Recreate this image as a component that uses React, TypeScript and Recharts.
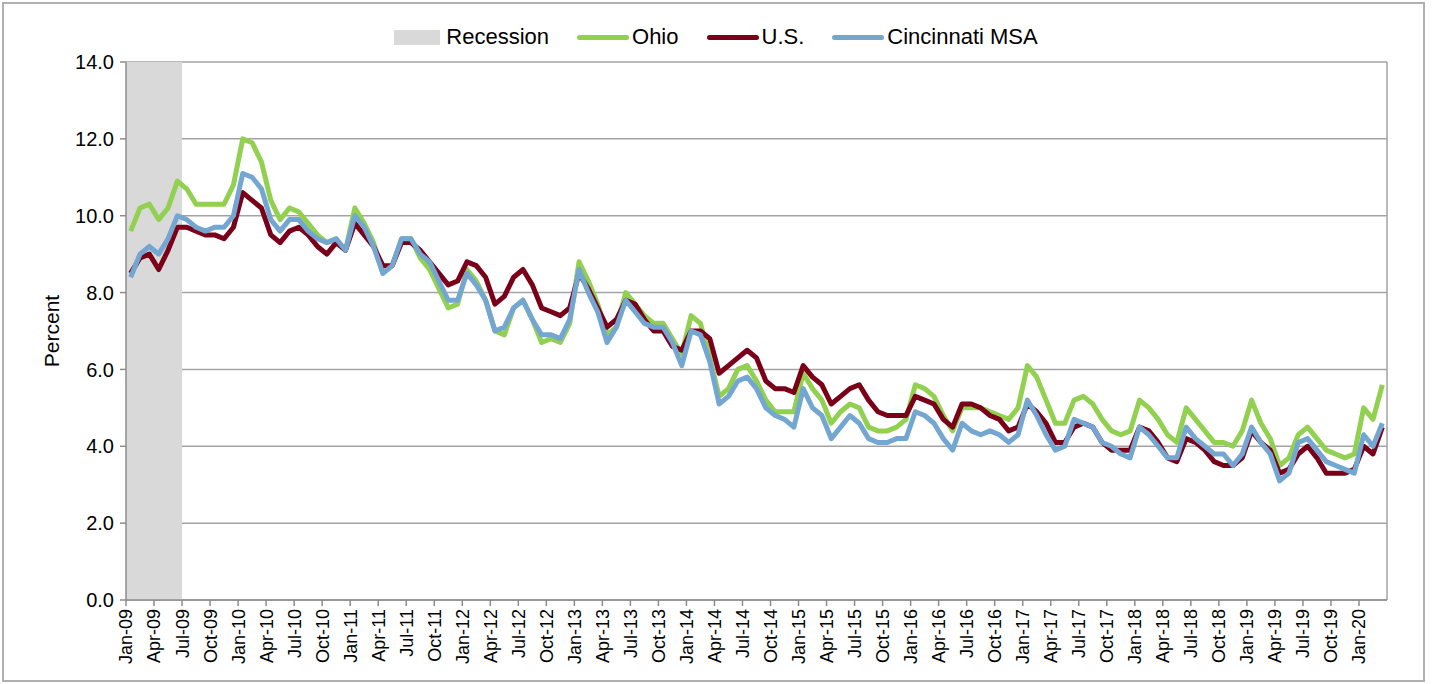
import React from "react";
import {
  CartesianGrid,
  Line,
  LineChart,
  ReferenceArea,
  ReferenceLine,
  XAxis,
  YAxis,
} from "recharts";

// monthly, Jan-09 .. Mar-20 (not seasonally adjusted unemployment rate, %)
const monthNames = ["Jan", "Feb", "Mar", "Apr", "May", "Jun", "Jul", "Aug", "Sep", "Oct", "Nov", "Dec"];
const years = ["09", "10", "11", "12", "13", "14", "15", "16", "17", "18", "19", "20"];

const ohio = [
  9.6, 10.2, 10.3, 9.9, 10.2, 10.9, 10.7, 10.3, 10.3, 10.3, 10.3, 10.8,
  12.0, 11.9, 11.4, 10.4, 9.9, 10.2, 10.1, 9.8, 9.5, 9.3, 9.4, 9.1,
  10.2, 9.8, 9.3, 8.5, 8.7, 9.4, 9.4, 8.9, 8.6, 8.1, 7.6, 7.7,
  8.6, 8.3, 7.8, 7.0, 6.9, 7.6, 7.8, 7.3, 6.7, 6.8, 6.7, 7.2,
  8.8, 8.3, 7.7, 6.9, 7.1, 8.0, 7.7, 7.4, 7.2, 7.2, 6.8, 6.4,
  7.4, 7.2, 6.3, 5.3, 5.5, 6.0, 6.1, 5.7, 5.2, 4.9, 4.9, 4.9,
  5.9, 5.5, 5.2, 4.6, 4.9, 5.1, 5.0, 4.5, 4.4, 4.4, 4.5, 4.7,
  5.6, 5.5, 5.3, 4.8, 4.4, 5.0, 5.0, 5.0, 4.9, 4.8, 4.7, 5.0,
  6.1, 5.8, 5.2, 4.6, 4.6, 5.2, 5.3, 5.1, 4.7, 4.4, 4.3, 4.4,
  5.2, 5.0, 4.7, 4.3, 4.1, 5.0, 4.7, 4.4, 4.1, 4.1, 4.0, 4.4,
  5.2, 4.6, 4.2, 3.5, 3.7, 4.3, 4.5, 4.2, 3.9, 3.8, 3.7, 3.8,
  5.0, 4.7, 5.6,
];

const us = [
  8.5, 8.9, 9.0, 8.6, 9.1, 9.7, 9.7, 9.6, 9.5, 9.5, 9.4, 9.7,
  10.6, 10.4, 10.2, 9.5, 9.3, 9.6, 9.7, 9.5, 9.2, 9.0, 9.3, 9.1,
  9.8, 9.5, 9.2, 8.7, 8.7, 9.3, 9.3, 9.1, 8.8, 8.5, 8.2, 8.3,
  8.8, 8.7, 8.4, 7.7, 7.9, 8.4, 8.6, 8.2, 7.6, 7.5, 7.4, 7.6,
  8.5, 8.1, 7.6, 7.1, 7.3, 7.8, 7.7, 7.3, 7.0, 7.0, 6.6, 6.5,
  7.0, 7.0, 6.8, 5.9, 6.1, 6.3, 6.5, 6.3, 5.7, 5.5, 5.5, 5.4,
  6.1, 5.8, 5.6, 5.1, 5.3, 5.5, 5.6, 5.2, 4.9, 4.8, 4.8, 4.8,
  5.3, 5.2, 5.1, 4.7, 4.5, 5.1, 5.1, 5.0, 4.8, 4.7, 4.4, 4.5,
  5.1, 4.9, 4.6, 4.1, 4.1, 4.5, 4.6, 4.5, 4.1, 3.9, 3.9, 3.9,
  4.5, 4.4, 4.1, 3.7, 3.6, 4.2, 4.1, 3.9, 3.6, 3.5, 3.5, 3.7,
  4.4, 4.1, 3.9, 3.3, 3.4, 3.8, 4.0, 3.7, 3.3, 3.3, 3.3, 3.4,
  4.0, 3.8, 4.5,
];

const cincinnati = [
  8.4, 9.0, 9.2, 9.0, 9.4, 10.0, 9.9, 9.7, 9.6, 9.7, 9.7, 10.0,
  11.1, 11.0, 10.7, 9.9, 9.6, 9.9, 9.9, 9.6, 9.4, 9.3, 9.4, 9.1,
  10.0, 9.7, 9.2, 8.5, 8.7, 9.4, 9.4, 9.0, 8.8, 8.3, 7.8, 7.8,
  8.5, 8.2, 7.8, 7.0, 7.1, 7.6, 7.8, 7.3, 6.9, 6.9, 6.8, 7.3,
  8.6, 8.0, 7.5, 6.7, 7.1, 7.8, 7.5, 7.2, 7.1, 7.1, 6.7, 6.1,
  7.0, 6.9, 6.2, 5.1, 5.3, 5.7, 5.8, 5.5, 5.0, 4.8, 4.7, 4.5,
  5.5, 5.0, 4.8, 4.2, 4.5, 4.8, 4.6, 4.2, 4.1, 4.1, 4.2, 4.2,
  4.9, 4.8, 4.6, 4.2, 3.9, 4.6, 4.4, 4.3, 4.4, 4.3, 4.1, 4.3,
  5.2, 4.8, 4.3, 3.9, 4.0, 4.7, 4.6, 4.5, 4.1, 4.0, 3.8, 3.7,
  4.5, 4.3, 4.0, 3.7, 3.7, 4.5, 4.2, 4.0, 3.8, 3.8, 3.5, 3.8,
  4.5, 4.1, 3.8, 3.1, 3.3, 4.1, 4.2, 3.9, 3.6, 3.5, 3.4, 3.3,
  4.3, 4.0, 4.6,
];

// recession months shaded: Jan-09 .. Jun-09
const recession = ["Jan-09", "Jun-09"];
const yTicks = [0, 2, 4, 6, 8, 10, 12, 14];

const months: string[] = [];
years.forEach((yr) => monthNames.forEach((m) => months.push(`${m}-${yr}`)));
const categories = months.slice(0, ohio.length);

const data = categories.map((name, i) => ({
  i,
  name,
  ohio: ohio[i],
  us: us[i],
  cincinnati: cincinnati[i],
}));

// ticks sit on category boundaries, every 3rd month
const xTicks = categories
  .map((_, i) => i)
  .filter((i) => i % 3 === 0)
  .map((i) => i - 0.5);

const FONT = "'Liberation Sans', Arial, sans-serif";
const GRID = "#a3a3a3";
const AXIS = "#8c8c8c";

const COLORS = {
  recession: "#d9d9d9",
  ohio: "#92d050",
  us: "#7a0019",
  cincinnati: "#74a6d2",
};

const MonthTick = (props: any) => {
  const { x, y, payload } = props;
  const label = categories[Math.round(payload.value + 0.5)];
  return (
    <text
      x={x}
      y={y}
      transform={`rotate(-90 ${x} ${y})`}
      textAnchor="end"
      dy="0.36em"
      fontSize={18}
      fontFamily={FONT}
      fill="#000"
    >
      {label}
    </text>
  );
};

const legendItems = [
  { label: "Recession", color: COLORS.recession, box: true },
  { label: "Ohio", color: COLORS.ohio },
  { label: "U.S.", color: COLORS.us },
  { label: "Cincinnati MSA", color: COLORS.cincinnati },
];

function Legend() {
  return (
    <div
      style={{
        position: "absolute",
        top: 24,
        left: 0,
        width: 1432,
        display: "flex",
        justifyContent: "center",
        alignItems: "center",
        fontFamily: FONT,
        fontSize: 22,
        color: "#000",
        paddingLeft: 28,
        boxSizing: "border-box",
      }}
    >
      {legendItems.map((it) => (
        <div
          key={it.label}
          style={{ display: "flex", alignItems: "center", marginRight: 28 }}
        >
          {it.box ? (
            <span
              style={{
                display: "inline-block",
                width: 46,
                height: 15,
                background: it.color,
                marginRight: 6,
              }}
            />
          ) : (
            <span
              style={{
                display: "inline-block",
                width: 52,
                height: 5,
                borderRadius: 3,
                background: it.color,
                marginRight: 3,
              }}
            />
          )}
          <span>{it.label}</span>
        </div>
      ))}
    </div>
  );
}

export default function App() {
  const r0 = categories.indexOf(recession[0]) - 0.5;
  const r1 = categories.indexOf(recession[1]) + 0.5;
  return (
    <div style={{ position: "relative", width: 1432, height: 684, background: "#fff" }}>
      <style>{`body{margin:0}`}</style>
      <div
        style={{
          position: "absolute",
          left: 2,
          top: 2,
          width: 1423,
          height: 680,
          border: "2px solid #b0b0b0",
          boxSizing: "border-box",
        }}
      />
      <Legend />
      <LineChart
        width={1432}
        height={684}
        data={data}
        margin={{ top: 62, right: 45, bottom: 0, left: 0 }}
        style={{ position: "absolute", left: 0, top: 0 }}
      >
        <CartesianGrid vertical={false} stroke={GRID} strokeWidth={1.5} />
        <ReferenceArea
          x1={r0}
          x2={r1}
          y1={0}
          y2={14}
          fill={COLORS.recession}
          fillOpacity={1}
          stroke="none"
        />
        <ReferenceLine x={categories.length - 0.5} stroke={GRID} strokeWidth={1.5} />
        <XAxis
          type="number"
          dataKey="i"
          domain={[-0.5, categories.length - 0.5]}
          ticks={xTicks}
          interval={0}
          height={84}
          tick={<MonthTick />}
          tickSize={6}
          tickMargin={3}
          stroke={AXIS}
          strokeWidth={1.5}
          allowDataOverflow
        />
        <YAxis
          type="number"
          domain={[0, 14]}
          ticks={yTicks}
          width={126}
          tickSize={6}
          tickMargin={6}
          tickFormatter={(v: number) => v.toFixed(1)}
          tick={{ fontSize: 20, fontFamily: FONT, fill: "#000" }}
          stroke={AXIS}
          strokeWidth={1.5}
          label={{
            value: "Percent",
            angle: -90,
            position: "center",
            dx: -11,
            style: { fontSize: 21, fontFamily: FONT, fill: "#000" },
          }}
        />
        <Line
          dataKey="ohio"
          name="Ohio"
          stroke={COLORS.ohio}
          strokeWidth={5}
          dot={false}
          strokeLinejoin="round"
          isAnimationActive={false}
        />
        <Line
          dataKey="us"
          name="U.S."
          stroke={COLORS.us}
          strokeWidth={5}
          dot={false}
          strokeLinejoin="round"
          isAnimationActive={false}
        />
        <Line
          dataKey="cincinnati"
          name="Cincinnati MSA"
          stroke={COLORS.cincinnati}
          strokeWidth={5}
          dot={false}
          strokeLinejoin="round"
          isAnimationActive={false}
        />
      </LineChart>
    </div>
  );
}
